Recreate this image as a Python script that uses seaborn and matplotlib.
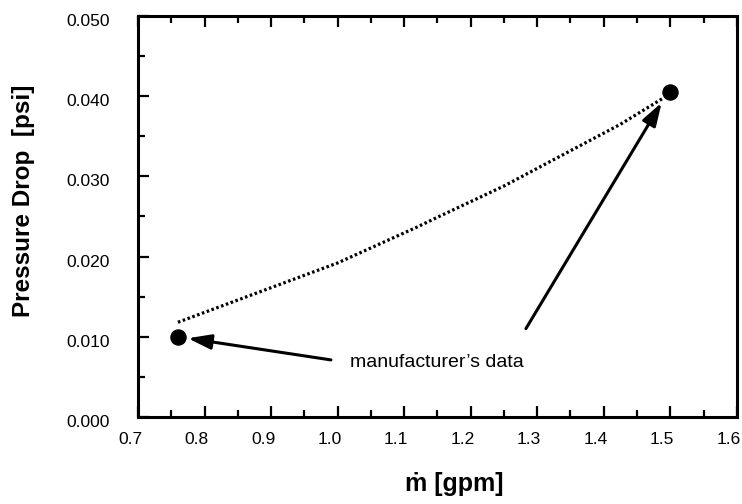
import matplotlib
matplotlib.use("Agg")
import matplotlib.pyplot as plt
import matplotlib.transforms as mtransforms
import seaborn as sns
import pandas as pd
from matplotlib.ticker import MultipleLocator, FormatStrFormatter

# Data
curve_flow = [0.76, 1.00, 1.12, 1.15, 1.25, 1.35, 1.425, 1.49]
curve_dp = [0.0118, 0.0192, 0.0237, 0.0249, 0.0288, 0.0332, 0.0365, 0.0398]
mfr_flow = [0.76, 1.50]
mfr_dp = [0.0100, 0.0405]
annotation_text = "manufacturer\u2019s data"
x_label = "\u1e41 [gpm]"
y_label = "Pressure Drop  [psi]"

sns.set_style("ticks")
plt.rcParams["font.family"] = ["Liberation Sans", "DejaVu Sans"]
plt.rcParams["text.color"] = "black"
plt.rcParams["axes.labelcolor"] = "black"
plt.rcParams["xtick.color"] = "black"
plt.rcParams["ytick.color"] = "black"

fig = plt.figure(figsize=(7.42, 5.04), dpi=100)
ax = fig.add_axes([0.186, 0.173, 0.807, 0.795])

curve_df = pd.DataFrame({"flow": curve_flow, "dp": curve_dp})
pts_df = pd.DataFrame({"flow": mfr_flow, "dp": mfr_dp})

sns.lineplot(data=curve_df, x="flow", y="dp", ax=ax, color="black",
             linewidth=2.3, linestyle=(0, (0.8, 0.8)), sort=True)
sns.scatterplot(data=pts_df, x="flow", y="dp", ax=ax, color="black",
                s=120, edgecolor="black", zorder=5)

ax.set_xlim(0.7, 1.6)
ax.set_ylim(0.0, 0.050)
ax.xaxis.set_major_locator(MultipleLocator(0.1))
ax.xaxis.set_minor_locator(MultipleLocator(0.05))
ax.yaxis.set_major_locator(MultipleLocator(0.010))
ax.yaxis.set_minor_locator(MultipleLocator(0.005))
ax.xaxis.set_major_formatter(FormatStrFormatter("%.1f"))
ax.yaxis.set_major_formatter(FormatStrFormatter("%.3f"))

ax.tick_params(axis="x", which="both", direction="in", top=True, bottom=True,
               labelsize=12.5, pad=11, colors="black")
ax.tick_params(axis="y", which="both", direction="in", left=True, right=False,
               labelsize=12.5, pad=20, colors="black")
ax.tick_params(which="major", length=8, width=1.6)
ax.tick_params(which="minor", length=5, width=1.6)

for side in ["left", "bottom", "top", "right"]:
    ax.spines[side].set_linewidth(2.2)
    ax.spines[side].set_color("black")

# x tick labels sit slightly left of their ticks in the reference
offset = mtransforms.ScaledTranslation(-8 / 100, 0, fig.dpi_scale_trans)
for lbl in ax.get_xticklabels():
    lbl.set_transform(lbl.get_transform() + offset)
offset_y = mtransforms.ScaledTranslation(0, -4 / 100, fig.dpi_scale_trans)
for lbl in ax.get_yticklabels():
    lbl.set_transform(lbl.get_transform() + offset_y)

ax.set_xlabel(x_label, fontsize=18, fontweight="bold", color="black")
ax.set_ylabel(y_label, fontsize=17.5, fontweight="bold", color="black")
ax.xaxis.set_label_coords(0.528, -0.137)
ax.yaxis.set_label_coords(-0.172, 0.54)

# Annotation arrows
arrow_kw = dict(arrowstyle="-|>,head_length=1.4,head_width=0.45", color="black",
                lw=2.2, shrinkA=0, shrinkB=0)
ax.annotate("", xy=(0.775, 0.0098), xytext=(0.99, 0.0071),
            arrowprops=arrow_kw)
ax.annotate("", xy=(1.487, 0.0392), xytext=(1.283, 0.0110),
            arrowprops=arrow_kw)
ax.text(1.018, 0.0068, annotation_text, fontsize=14, va="center", ha="left",
        color="black")

fig.savefig("out.png", dpi=100)
